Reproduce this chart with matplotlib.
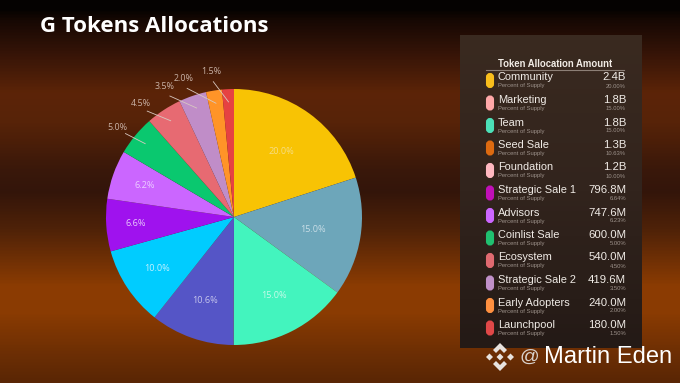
import numpy as np
import matplotlib
matplotlib.use("Agg")
import matplotlib.pyplot as plt
from matplotlib.colors import LinearSegmentedColormap
from matplotlib.patches import FancyBboxPatch, Polygon

W, H = 680, 383

# pie data, clockwise from the top
pie_values = [20.0, 15.0, 15.0, 10.6, 10.0, 6.6, 6.2, 5.0, 4.5, 3.5, 2.0, 1.5]
pie_colors = ['#F8C304', '#6DA6BA', '#43F4BE', '#5555C6', '#00CCFF', '#9F12EE',
              '#CB66FF', '#0AC86F', '#E76A72', '#C08DC8', '#FF9428', '#E64242']

# table data
names = ['Community', 'Marketing', 'Team', 'Seed Sale', 'Foundation', 'Strategic Sale 1',
         'Advisors', 'Coinlist Sale', 'Ecosystem', 'Strategic Sale 2', 'Early Adopters', 'Launchpool']
amounts = ['2.4B', '1.8B', '1.8B', '1.3B', '1.2B', '796.8M',
           '747.6M', '600.0M', '540.0M', '419.6M', '240.0M', '180.0M']
percents = ['20.00%', '15.00%', '15.00%', '10.63%', '10.00%', '6.64%',
            '6.23%', '5.00%', '4.50%', '3.50%', '2.00%', '1.50%']
pill_colors = ['#F9BE1C', '#FFA8A8', '#4CE0B8', '#DD6A10', '#FFB8C0', '#C010B8',
               '#CC66FF', '#20C070', '#E06A70', '#C090C8', '#FF9040', '#E04848']

# background bands, top to bottom
bg_stops = [(0.0, '#050201'), (0.022, '#050201'), (0.05, '#160803'), (0.13, '#331307'),
            (0.24, '#5c2408'), (0.32, '#572308'), (0.44, '#3a180a'), (0.50, '#33150a'),
            (0.60, '#4f2208'), (0.68, '#703005'), (0.75, '#8c3c02'), (0.82, '#8a3b02'),
            (0.92, '#6e2f04'), (1.0, '#5a2605')]
panel_stops = [(0.0, '#3a2a20'), (0.5, '#32241d'), (1.0, '#241a16')]

plt.rcParams['font.family'] = ['Liberation Sans', 'DejaVu Sans']

fig = plt.figure(figsize=(W / 100, H / 100), dpi=100)
bg = fig.add_axes([0, 0, 1, 1])
bg.axis('off')

cmap = LinearSegmentedColormap.from_list('bg', bg_stops)
bg.imshow(np.linspace(0, 1, 383)[:, None], cmap=cmap, extent=[0, W, H, 0], aspect='auto', zorder=0)

bg.text(40, 26, 'G Tokens Allocations', color='white', fontsize=16, fontweight='bold',
        family='Open Sans', va='center')

# table panel
pcmap = LinearSegmentedColormap.from_list('panel', panel_stops)
bg.imshow(np.linspace(0, 1, 64)[:, None], cmap=pcmap, extent=[460, 642, 348, 35], aspect='auto', zorder=1)
bg.set_xlim(0, W)
bg.set_ylim(H, 0)

bg.text(555, 64, 'Token Allocation Amount', color='#f2ece6', fontsize=6.85, fontweight='bold',
        ha='center', va='center', zorder=3)
bg.plot([486, 624], [69.5, 69.5], color='#8c7f76', lw=0.8, zorder=3)

for i, name in enumerate(names):
    y = 77 + i * 22.5
    bg.add_patch(FancyBboxPatch((487, y - 3), 6, 13, boxstyle='round,pad=0,rounding_size=3',
                                fc=pill_colors[i], ec=pill_colors[i], lw=1.5, zorder=3))
    bg.text(498, y + 0.5, name, color='#f0ebe6', fontsize=7.9, va='center', zorder=3)
    bg.text(498, y + 9, 'Percent of Supply', color='#9d928b', fontsize=4.25, va='center', zorder=3)
    bg.text(626, y + 0.5, amounts[i], color='#f0ebe6', fontsize=8.2, ha='right', va='center', zorder=3)
    bg.text(626, y + 9, percents[i], color='#9d928b', fontsize=4.2, ha='right', va='center', zorder=3)

# pie, centre (234, 217), radius 128 px
ax = fig.add_axes([106 / W, 1 - 345 / H, 256 / W, 256 / H])
ax.patch.set_alpha(0)
ax.axis('off')
wedges, _ = ax.pie(pie_values, colors=pie_colors, startangle=90, counterclock=False, radius=1.0,
                   frame=False)
ax.set_xlim(-1, 1)
ax.set_ylim(-1, 1)

inside_colors = ['#f6dd84', '#c8dde6', '#c6fbe9', '#c5c5ec', '#c0f1ff', '#e8c8fb', '#eccdff']
inside_r = [0.63, 0.625, 0.69, 0.69, 0.72, 0.77, 0.74]
outer_shift = [-2, -6, -9, -11, -6]
for i, w in enumerate(wedges):
    mid = np.deg2rad((w.theta1 + w.theta2) / 2)
    if i < len(inside_colors):
        r = inside_r[i]
        ax.text(r * np.cos(mid), r * np.sin(mid), f'{pie_values[i]:.1f}%', family='Open Sans',
                color=inside_colors[i], fontsize=6.6, ha='center', va='center')
    else:
        tip = np.rad2deg(mid) - outer_shift[i - len(inside_colors)]
        tx, ty = 1.15 * np.cos(np.deg2rad(tip)), 1.15 * np.sin(np.deg2rad(tip))
        ax.plot([0.9 * np.cos(mid), tx * 0.93], [0.9 * np.sin(mid), ty * 0.93],
                color='#d8c8c0', lw=0.6, clip_on=False)
        ax.text(tx, ty, f'{pie_values[i]:.1f}%', color='#c9b2a6', fontsize=6.4, family='Open Sans',
                ha='center', va='center', clip_on=False)

# watermark logo
logo_x, logo_y = 500, 357
shapes = [
    [(0, -14), (7, -7), (4, -4), (0, -8), (-4, -4), (-7, -7)],
    [(0, 14), (7, 7), (4, 4), (0, 8), (-4, 4), (-7, 7)],
    [(-14, 0), (-10.5, -3.5), (-7, 0), (-10.5, 3.5)],
    [(14, 0), (10.5, -3.5), (7, 0), (10.5, 3.5)],
    [(0, -3.5), (3.5, 0), (0, 3.5), (-3.5, 0)],
]
for s in shapes:
    bg.add_patch(Polygon([(logo_x + px, logo_y + py) for px, py in s], fc='#e8e2de', ec='none', zorder=4))
bg.text(519.5, 357, '@', color='#d9d2cd', fontsize=14, ha='left', va='center', zorder=4)
bg.text(544, 357, 'Martin Eden', color='white', fontsize=17.1, ha='left', va='center', zorder=4)

fig.savefig('out.png', dpi=100)
